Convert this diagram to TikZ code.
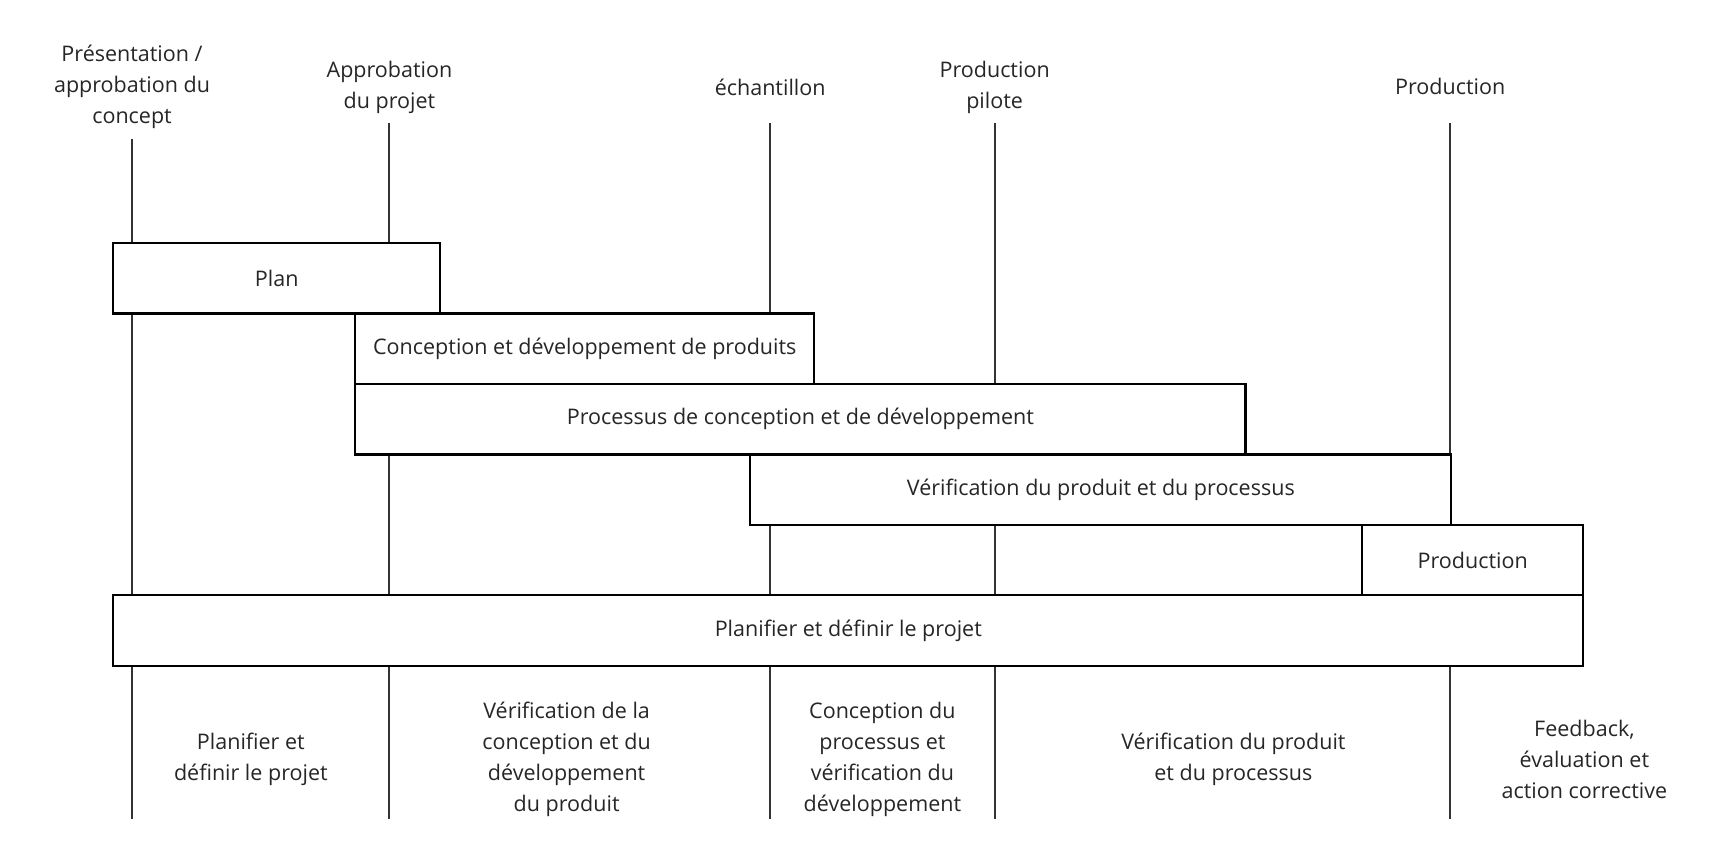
\documentclass[tikz,border=0pt]{standalone}
\usepackage{fontspec}
\setmainfont{Open Sans}
\begin{document}
\begin{tikzpicture}[x=1.1pt,y=-1.1pt,
  bar/.style={draw=black,line width=2.2pt,fill=white,anchor=north west,inner sep=0pt,font=\fontsize{21.5}{31}\selectfont,text=black!85},
  lbl/.style={align=center,font=\fontsize{21.5}{31}\selectfont,text=black!85},
  vline/.style={draw=black!80,line width=2pt}]
\useasboundingbox (0,0) rectangle (1566,780);
\coordinate (t1) at (120,126); \coordinate (b1) at (120,744);
\coordinate (t2) at (354,112); \coordinate (b2) at (354,744);
\coordinate (t3) at (700,112); \coordinate (b3) at (700,744);
\coordinate (t4) at (904,112); \coordinate (b4) at (904,744);
\coordinate (t5) at (1318,112); \coordinate (b5) at (1318,744);
\foreach \i in {1,...,5} \draw[vline] (t\i) -- (b\i);
\node[bar,minimum width=297*1.1pt,minimum height=64*1.1pt] (plan) at (102,220) {Plan};
\node[bar,minimum width=417*1.1pt,minimum height=64*1.1pt] (cdp) at (322,284) {Conception et développement de produits};
\node[bar,minimum width=809*1.1pt,minimum height=64*1.1pt] (pcd) at (322,348) {Processus de conception et de développement};
\node[bar,minimum width=637*1.1pt,minimum height=64*1.1pt] (vpp) at (681,412) {Vérification du produit et du processus};
\node[bar,minimum width=201*1.1pt,minimum height=64*1.1pt] (prod) at (1237,476) {Production};
\node[bar,minimum width=1336*1.1pt,minimum height=64*1.1pt] (pdp) at (102,540) {Planifier et définir le projet};
\node[lbl] (l1) at (120,79) {Présentation /\\approbation du\\concept};
\node[lbl] (l2) at (354,79) {Approbation\\du projet};
\node[lbl] (l3) at (700,79) {échantillon};
\node[lbl] (l4) at (904,79) {Production\\pilote};
\node[lbl] (l5) at (1318,79) {Production};
\node[lbl] (m1) at (228,690) {Planifier et\\définir le projet};
\node[lbl] (m2) at (515,690) {Vérification de la\\conception et du\\développement\\du produit};
\node[lbl] (m3) at (802,690) {Conception du\\processus et\\vérification du\\développement};
\node[lbl] (m4) at (1121,690) {Vérification du produit\\et du processus};
\node[lbl] (m5) at (1440,690) {Feedback,\\évaluation et\\action corrective};
\end{tikzpicture}
\end{document}
